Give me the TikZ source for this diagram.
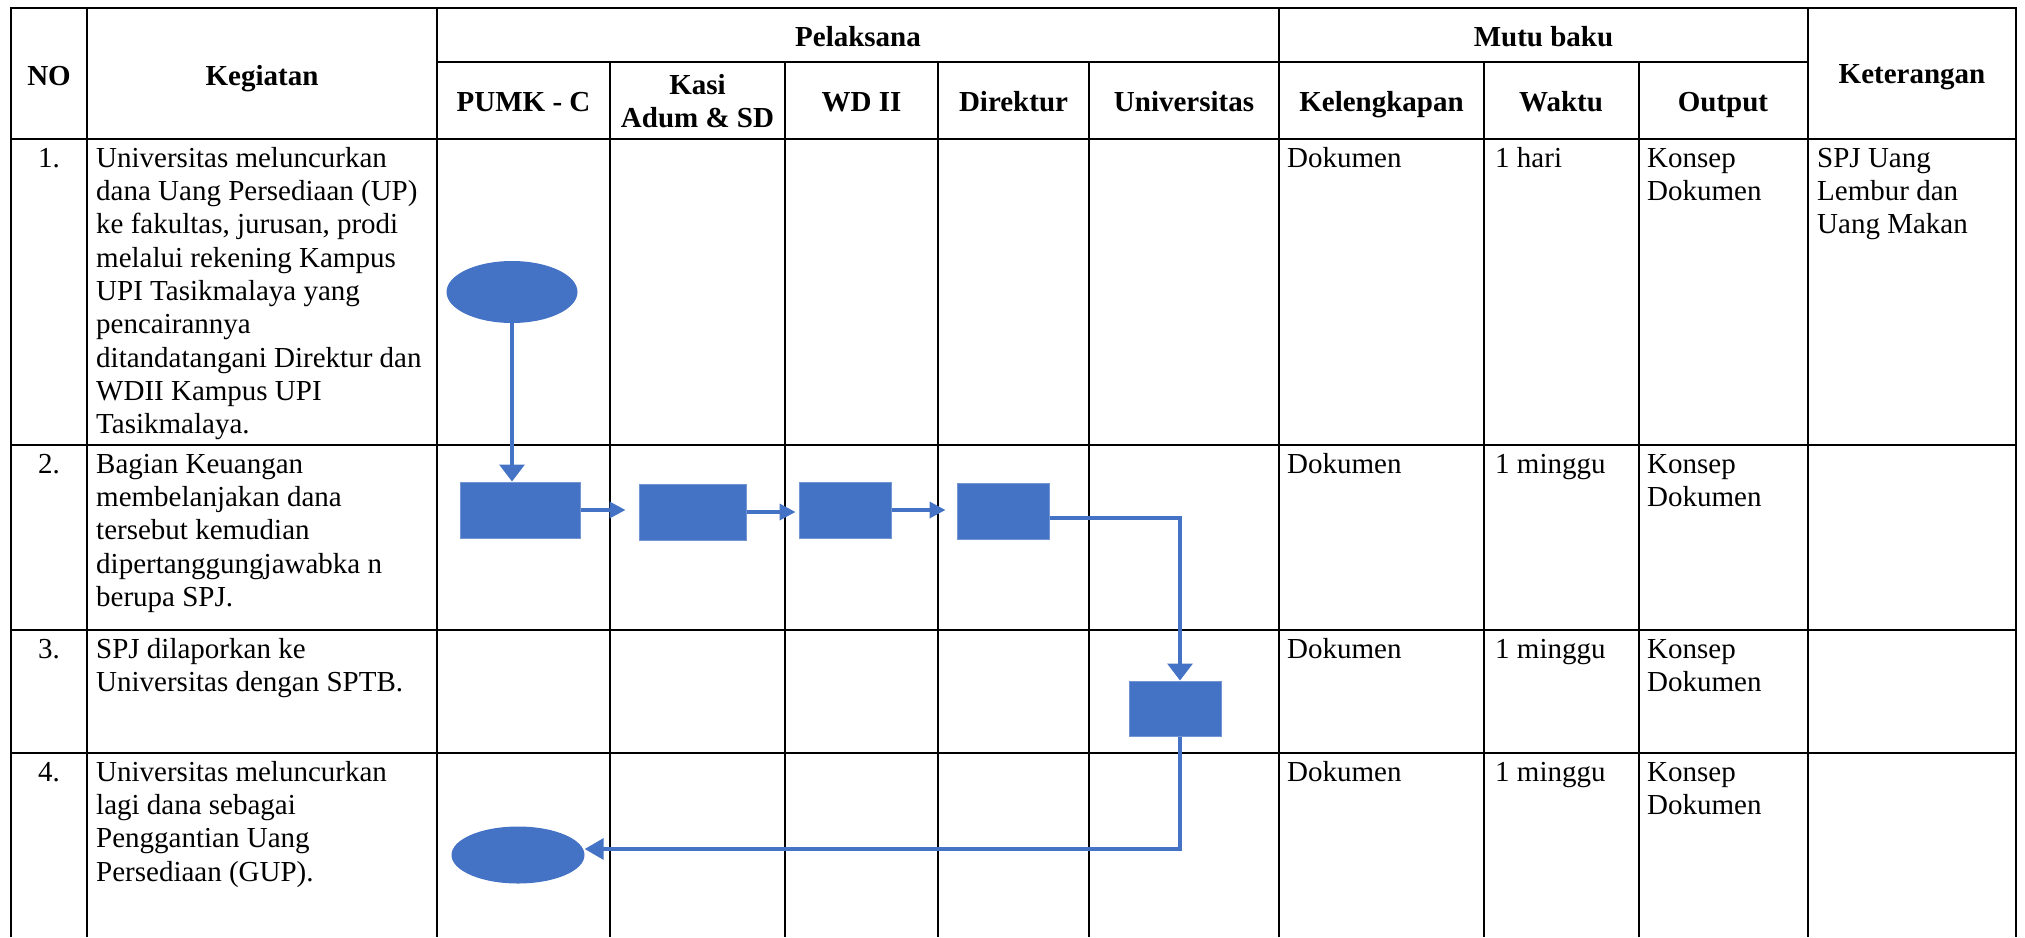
\documentclass[tikz,border=0pt]{standalone}
\usepackage{fontspec}
\setmainfont{Liberation Serif}
\usetikzlibrary{shapes.geometric,arrows.meta}
\definecolor{flowblue}{HTML}{4472C4}
\newcommand\cellfont{\fontsize{29}{33.3}\selectfont}
\newcommand\tstrut{\rule{0pt}{23pt}}

\begin{document}
\begin{tikzpicture}[x=1pt,y=-1pt,
  grid/.style={line width=2pt},
  head/.style={font=\cellfont\bfseries, inner sep=0, anchor=base},
  headml/.style={font=\cellfont\bfseries, inner sep=0, anchor=north, align=center},
  cell/.style={font=\cellfont, inner sep=0, anchor=north west, align=left},
  num/.style={font=\cellfont, inner sep=0, anchor=base},
  proc/.style={rectangle, fill=flowblue, draw=flowblue!75!white, line width=1pt, inner sep=0},
  term/.style={ellipse, fill=flowblue, inner sep=0},
  flow/.style={draw=flowblue, line width=3.5pt},
  bigtip/.style={-{Triangle[length=17pt,width=25pt]}},
  smalltip/.style={-{Triangle[length=16pt,width=16pt]}},
  backtip/.style={-{Triangle[length=19pt,width=21pt]}}
]
\useasboundingbox (0,0) rectangle (2025,937);

% ---- table rules ----
\draw[grid] (11,937) -- (11,8) -- (2016,8) -- (2016,937);
\draw[grid] (437,61.7) -- (1808,61.7);
\foreach \y in {139.3,445,630,753.3}
  \draw[grid] (11,\y) -- (2016,\y);
\foreach \x in {87,437,1279,1808}
  \draw[grid] (\x,8) -- (\x,937);
\foreach \x in {610,785,938,1089,1484,1638.5}
  \draw[grid] (\x,61.7) -- (\x,937);

% ---- header ----
\node[head] (hno)   at (49,85)     {NO};
\node[head] (hkeg)  at (262,85)    {Kegiatan};
\node[head] (hpel)  at (858,46)    {Pelaksana};
\node[head] (hmutu) at (1543.5,46) {Mutu baku};
\node[head] (hket)  at (1912,83)   {Keterangan};
\node[head] (hpumk) at (523.5,111) {PUMK - C};
\node[headml] (hkasi) at (697.5,71) {\tstrut Kasi\\Adum \& SD};
\node[head] (hwd)   at (861.5,111) {WD II};
\node[head] (hdir)  at (1013.5,111){Direktur};
\node[head] (huniv) at (1184,111)  {Universitas};
\node[head] (hkel)  at (1381.5,111){Kelengkapan};
\node[head] (hwkt)  at (1561,111)  {Waktu};
\node[head] (hout)  at (1723,111)  {Output};

% ---- row 1 ----
\node[num]  (n1) at (49,167) {1.};
\node[cell] (k1) at (96,144) {\tstrut Universitas meluncurkan\\dana Uang Persediaan (UP)\\ke fakultas, jurusan, prodi\\melalui rekening Kampus\\UPI Tasikmalaya yang\\pencairannya\\ditandatangani Direktur dan\\WDII Kampus UPI\\Tasikmalaya.};
\node[cell] (l1) at (1287,144) {\tstrut Dokumen};
\node[cell] (w1) at (1495,144) {\tstrut 1 hari};
\node[cell] (o1) at (1647,144) {\tstrut Konsep\\Dokumen};
\node[cell] (x1) at (1817,144) {\tstrut SPJ Uang\\Lembur dan\\Uang Makan};

% ---- row 2 ----
\node[num]  (n2) at (49,473) {2.};
\node[cell] (k2) at (96,450) {\tstrut Bagian Keuangan\\membelanjakan dana\\tersebut kemudian\\dipertanggungjawabka n\\berupa SPJ.};
\node[cell] (l2) at (1287,450) {\tstrut Dokumen};
\node[cell] (w2) at (1495,450) {\tstrut 1 minggu};
\node[cell] (o2) at (1647,450) {\tstrut Konsep\\Dokumen};

% ---- row 3 ----
\node[num]  (n3) at (49,658) {3.};
\node[cell] (k3) at (96,635) {\tstrut SPJ dilaporkan ke\\Universitas dengan SPTB.};
\node[cell] (l3) at (1287,635) {\tstrut Dokumen};
\node[cell] (w3) at (1495,635) {\tstrut 1 minggu};
\node[cell] (o3) at (1647,635) {\tstrut Konsep\\Dokumen};

% ---- row 4 ----
\node[num]  (n4) at (49,781) {4.};
\node[cell] (k4) at (96,758) {\tstrut Universitas meluncurkan\\lagi dana sebagai\\Penggantian Uang\\Persediaan (GUP).};
\node[cell] (l4) at (1287,758) {\tstrut Dokumen};
\node[cell] (w4) at (1495,758) {\tstrut 1 minggu};
\node[cell] (o4) at (1647,758) {\tstrut Konsep\\Dokumen};

% ---- flow symbols ----
\node[term, minimum width=131pt, minimum height=62pt] (e1) at (512,292) {};
\node[proc, minimum width=120pt, minimum height=56pt] (r1) at (520,510) {};
\node[proc, minimum width=107pt, minimum height=56pt] (r2) at (692.5,512) {};
\node[proc, minimum width=92pt,  minimum height=56pt] (r3) at (845,510) {};
\node[proc, minimum width=92pt,  minimum height=56pt] (r4) at (1003,511) {};
\node[proc, minimum width=92pt,  minimum height=55pt] (r5) at (1175,708.5) {};
\node[term, minimum width=133pt, minimum height=57pt] (e2) at (518,855) {};

% ---- flow connectors ----
\draw[flow, bigtip] (e1.south) -- (e1.south |- r1.north);
\draw[flow, smalltip, shorten >=13pt] (r1.east) -- (r1.east -| r2.west);
\draw[flow, smalltip, shorten >=3pt] (r2.east) -- (r2.east -| r3.west);
\draw[flow, smalltip, shorten >=11pt] (r3.east) -- (r3.east -| r4.west);
\draw[flow, bigtip] ([yshift=-7pt]r4.east) -| ([xshift=5pt]r5.north);
\draw[flow, backtip] ([xshift=5pt]r5.south) |- ([yshift=6pt]e2.east);
\end{tikzpicture}
\end{document}
